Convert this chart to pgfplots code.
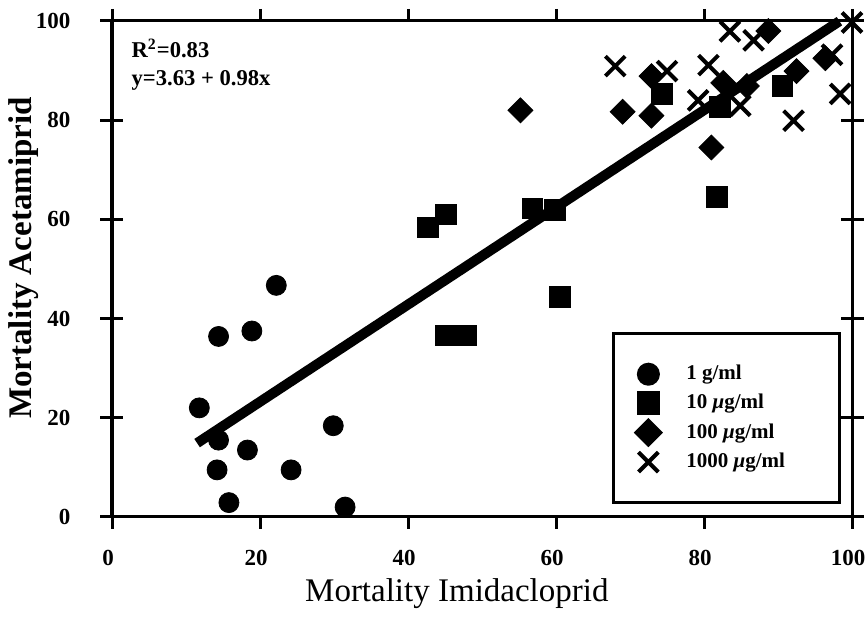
\documentclass[border=0pt]{standalone}
\usepackage{fontspec}
\setmainfont{Liberation Serif}
\usepackage{pgfplots}
\pgfplotsset{compat=1.18}
\begin{document}
\begin{tikzpicture}
\path[use as bounding box] (-56pt,-51pt) rectangle (377pt,258.5pt);
% axis carrying the y ticks (crossing ticks)
\begin{axis}[
  at={(0,0)}, anchor=origin,
  width=370pt, height=248pt, scale only axis,
  xmin=0, xmax=100, ymin=0, ymax=100,
  xtick=\empty, ytick={0,20,...,100},
  tick align=center, major tick length=11.5pt,
  axis line style={line width=1.5pt},
  ytick style={line width=1.5pt, black},
  /pgf/number format/assume math mode=true,
  yticklabel style={font=\fontsize{11.5}{12}\selectfont\bfseries, anchor=east, xshift=-11.5pt},
  ylabel={Mortality Acetamiprid},
  ylabel style={font=\fontsize{16.5}{18}\selectfont\bfseries, at={(axis description cs:-0.12,0.522)}, anchor=center},
]
\end{axis}
% main axis with data and outward x ticks
\begin{axis}[
  at={(0,0)}, anchor=origin,
  width=370pt, height=248pt, scale only axis,
  xmin=0, xmax=100, ymin=0, ymax=100,
  xtick={0,20,...,100}, ytick=\empty,
  tick align=outside, major tick length=6pt,
  axis line style={line width=1.5pt},
  xtick style={line width=1.5pt, black},
  clip=false,
  /pgf/number format/assume math mode=true,
  xticklabel style={font=\fontsize{11.5}{12}\selectfont\bfseries, yshift=-7pt, xshift=-2pt},
  xlabel={Mortality Imidacloprid},
  xlabel style={font=\fontsize{16.5}{18}\selectfont, at={(axis description cs:0.466,-0.155)}, anchor=center},
  legend cell align=left,
  legend style={draw=black, line width=1.5pt, at={(rel axis cs:0.985,0.026)}, anchor=south east,
    inner xsep=9.5pt, inner ysep=14.25pt, row sep=2.5pt, column sep=11pt,
    font=\fontsize{10.5}{12}\selectfont\bfseries,
    nodes={inner sep=0pt}},
  legend image code/.code={\path[draw=none,fill=none] (-8pt,-6pt) rectangle (8pt,6pt); \draw[#1] plot coordinates {(0pt,0pt)};},
]
\addplot[black, line width=5pt, forget plot] coordinates {(11.5,14.9) (98.3,99.96)};
\addplot[only marks, mark=*, mark size=5pt, black] coordinates {
(22.2,46.7) (14.4,36.4) (18.9,37.5) (11.8,22.0) (14.4,15.5) (18.3,13.5)
(29.9,18.4) (14.2,9.5) (24.2,9.5) (15.8,2.9) (31.5,2.0)};
\addlegendentry{\makebox[67pt][l]{1 g/ml}}
\addplot[only marks, mark=square*, mark size=5.2pt, black] coordinates {
(42.7,58.4) (45.1,61.0) (56.8,62.2) (59.8,61.9) (60.5,44.3) (45.1,36.6)
(47.8,36.6) (81.7,64.6) (74.3,85.3) (82.1,82.6) (90.6,86.9)};
\addlegendentry{\makebox[67pt][l]{10 \textit{μ}g/ml}}
\addplot[only marks, mark=square*, mark size=4.4pt, mark options={rotate=45}, black] coordinates {
(55.2,82.0) (69.0,81.7) (72.9,80.9) (72.9,88.9) (81.0,74.5) (82.6,87.5)
(85.8,86.9) (88.7,98.0) (92.5,89.9) (96.4,92.5)};
\addlegendentry{\makebox[67pt][l]{100 \textit{μ}g/ml}}
\addplot[only marks, mark=x, mark size=7pt, mark options={line width=2pt}, black] coordinates {
(68.0,90.9) (75.0,89.9) (80.6,91.1) (79.2,84.0) (84.9,82.9) (83.5,97.9)
(86.7,96.1) (92.1,79.9) (97.3,93.2) (98.4,85.3) (100,99.7)};
\addlegendentry{\makebox[67pt][l]{1000 \textit{μ}g/ml}}
\node[anchor=north west, align=left, inner sep=0pt, font=\fontsize{11.3}{14}\selectfont\bfseries]
  at (rel axis cs:0.026,0.965) {R\textsuperscript{2}=0.83\\y=3.63 + 0.98x};
\end{axis}
\end{tikzpicture}
\end{document}
